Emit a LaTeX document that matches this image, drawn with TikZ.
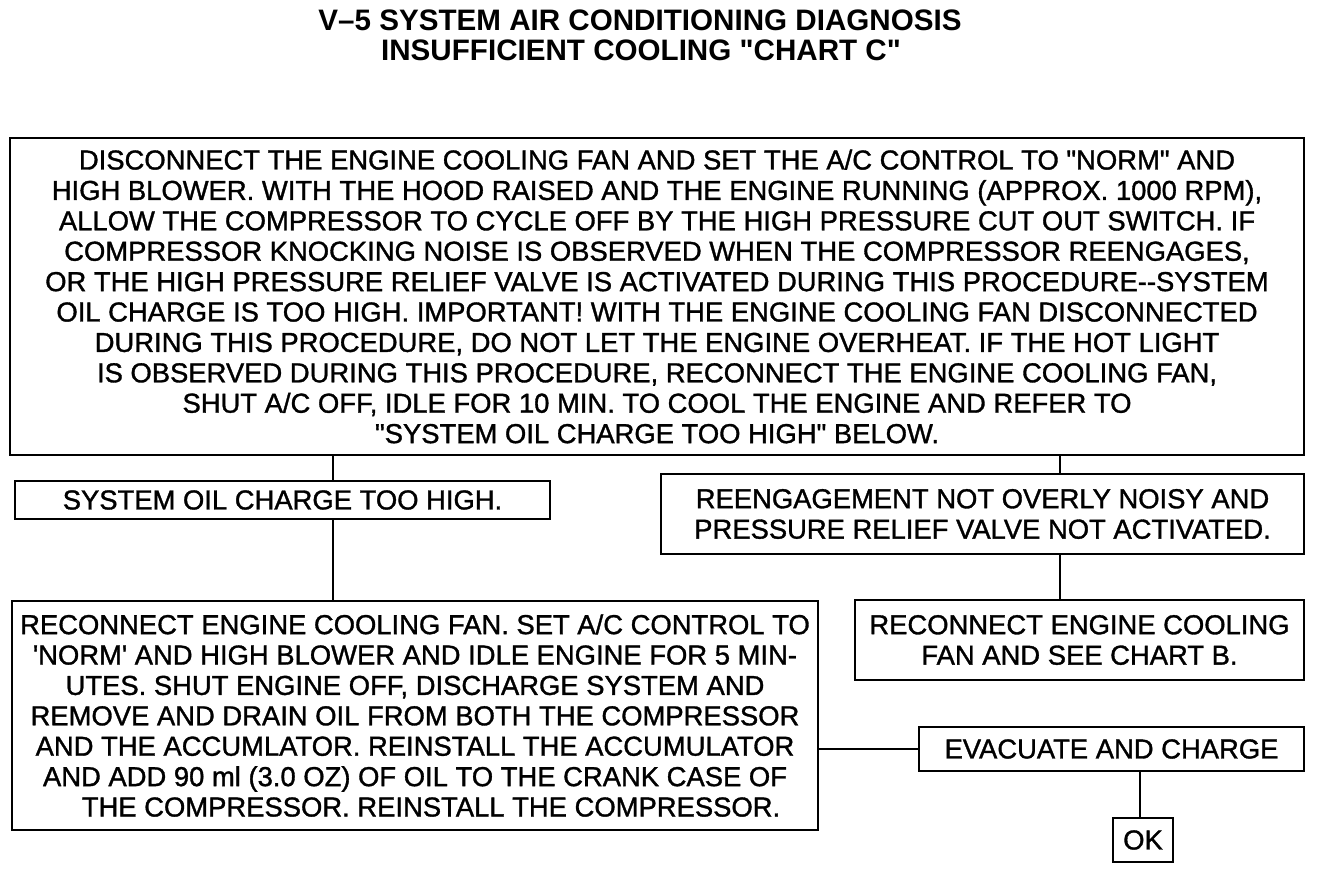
\documentclass[tikz,border=0pt]{standalone}
\usepackage{fontspec}
\setmainfont{Liberation Sans}
\newfontfamily\chartface{Liberation Sans}[FakeBold=1.2]
\usetikzlibrary{positioning, calc}

\begin{document}
\begin{tikzpicture}[x=0.5pt, y=-0.5pt,
    every node/.style={inner sep=0pt, align=center, font=\chartface\fontsize{13.7}{15.2}\selectfont},
    box/.style={draw, line width=1.2pt},
    heading/.style={font=\bfseries\fontsize{14.8}{15}\selectfont},
    link/.style={line width=1.2pt}]
    \useasboundingbox (0,0) rectangle (1328,872);
    % title
    \node[heading] (title) at (640,20) {V--5 SYSTEM AIR CONDITIONING DIAGNOSIS};
    \node[heading] (subtitle) at (641,50) {INSUFFICIENT COOLING \textquotedbl CHART C\textquotedbl};
    % boxes
    \node[box, minimum width=647pt, minimum height=158.5pt] (main) at (657,296.5)
        {DISCONNECT THE ENGINE COOLING FAN AND SET THE A/C CONTROL TO \textquotedbl NORM\textquotedbl{} AND\\
         HIGH BLOWER. WITH THE HOOD RAISED AND THE ENGINE RUNNING (APPROX. 1000 RPM),\\
         ALLOW THE COMPRESSOR TO CYCLE OFF BY THE HIGH PRESSURE CUT OUT SWITCH. IF\\
         COMPRESSOR KNOCKING NOISE IS OBSERVED WHEN THE COMPRESSOR REENGAGES,\\
         OR THE HIGH PRESSURE RELIEF VALVE IS ACTIVATED DURING THIS PROCEDURE-{}-SYSTEM\\
         OIL CHARGE IS TOO HIGH. IMPORTANT! WITH THE ENGINE COOLING FAN DISCONNECTED\\
         DURING THIS PROCEDURE, DO NOT LET THE ENGINE OVERHEAT. IF THE HOT LIGHT\\
         IS OBSERVED DURING THIS PROCEDURE, RECONNECT THE ENGINE COOLING FAN,\\
         SHUT A/C OFF, IDLE FOR 10 MIN. TO COOL THE ENGINE AND REFER TO\\
         \textquotedbl SYSTEM OIL CHARGE TOO HIGH\textquotedbl{} BELOW.};
    \node[box, minimum width=267.5pt, minimum height=19pt] (oil) at (282.5,500)
        {SYSTEM OIL CHARGE TOO HIGH.};
    \node[box, minimum width=321.5pt, minimum height=40pt] (reeng) at (982.5,514)
        {REENGAGEMENT NOT OVERLY NOISY AND\\PRESSURE RELIEF VALVE NOT ACTIVATED.};
    \node[box, minimum width=403pt, minimum height=114.5pt] (recon) at (415,715.5)
        {RECONNECT ENGINE COOLING FAN. SET A/C CONTROL TO\\
         \textquotesingle NORM\textquotesingle{} AND HIGH BLOWER AND IDLE ENGINE FOR 5 MIN-\\
         UTES. SHUT ENGINE OFF, DISCHARGE SYSTEM AND\\
         REMOVE AND DRAIN OIL FROM BOTH THE COMPRESSOR\\
         AND THE ACCUMLATOR. REINSTALL THE ACCUMULATOR\\
         AND ADD 90 ml (3.0 OZ) OF OIL TO THE CRANK CASE OF\\
         \hspace*{16pt}THE COMPRESSOR. REINSTALL THE COMPRESSOR.};
    \node[box, minimum width=224.5pt, minimum height=40pt] (chartb) at (1079.5,640)
        {RECONNECT ENGINE COOLING\\FAN AND SEE CHART B.};
    \node[box, minimum width=192.5pt, minimum height=22pt] (evac) at (1111.5,749)
        {EVACUATE AND CHARGE};
    \node[box, minimum width=30pt, minimum height=22pt] (ok) at (1143,840) {OK};
    % connectors
    \coordinate (oiltop) at ([xshift=25.25pt]oil.north);
    \coordinate (oilbot) at ([xshift=25.25pt]oil.south);
    \coordinate (reengtop) at ([xshift=38.75pt]reeng.north);
    \coordinate (reengbot) at ([xshift=38.75pt]reeng.south);
    \coordinate (evacbot) at ([xshift=14.25pt]evac.south);
    \draw[link] (main.south -| oiltop) -- (oiltop);
    \draw[link] (oilbot) -- (oilbot |- recon.north);
    \draw[link] (main.south -| reengtop) -- (reengtop);
    \draw[link] (reengbot) -- (reengbot |- chartb.north);
    \draw[link] (recon.east |- evac.west) -- (evac.west);
    \draw[link] (evacbot) -- (evacbot |- ok.north);
\end{tikzpicture}
\end{document}
